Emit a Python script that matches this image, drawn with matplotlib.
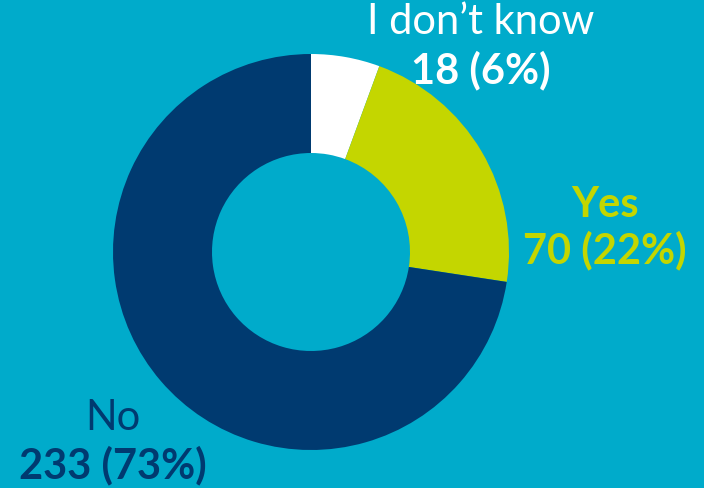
import matplotlib.pyplot as plt

labels = ["I don\u2019t know", "Yes", "No"]
counts = [18, 70, 233]
pcts = ["6%", "22%", "73%"]
colors = ["#FFFFFF", "#C4D600", "#003A70"]
text_colors = ["#FFFFFF", "#C4D600", "#003A70"]
name_weights = ["normal", "bold", "normal"]

bg = "#00ABCB"
W, H = 704, 489

fig = plt.figure(figsize=(W / 100, H / 100), dpi=100, facecolor=bg)
ax = fig.add_axes([0, 0, 1, 1])
ax.set_facecolor(bg)

cx, cy, r = 311, H - 253, 198
ax.pie(counts, colors=colors, startangle=90, counterclock=False,
       center=(cx, cy), radius=r, frame=True,
       wedgeprops=dict(width=r - 99, linewidth=0))
ax.set_xlim(0, W)
ax.set_ylim(0, H)
ax.set_aspect("equal")
ax.axis("off")

# label positions (pixel coords from top)
pos = [(481, 22, 70), (605, 205, 250), (113, 418, 465)]
for lab, n, p, c, w, (x, y1, y2) in zip(labels, counts, pcts, text_colors,
                                        name_weights, pos):
    ax.text(x, H - y1, lab, color=c, fontsize=30, fontweight=w,
            family="Lato", ha="center", va="center")
    ax.text(x, H - y2, f"{n} ({p})", color=c, fontsize=30,
            fontweight="bold", family="Lato", ha="center", va="center")

fig.savefig("out.png", dpi=100, facecolor=bg)
